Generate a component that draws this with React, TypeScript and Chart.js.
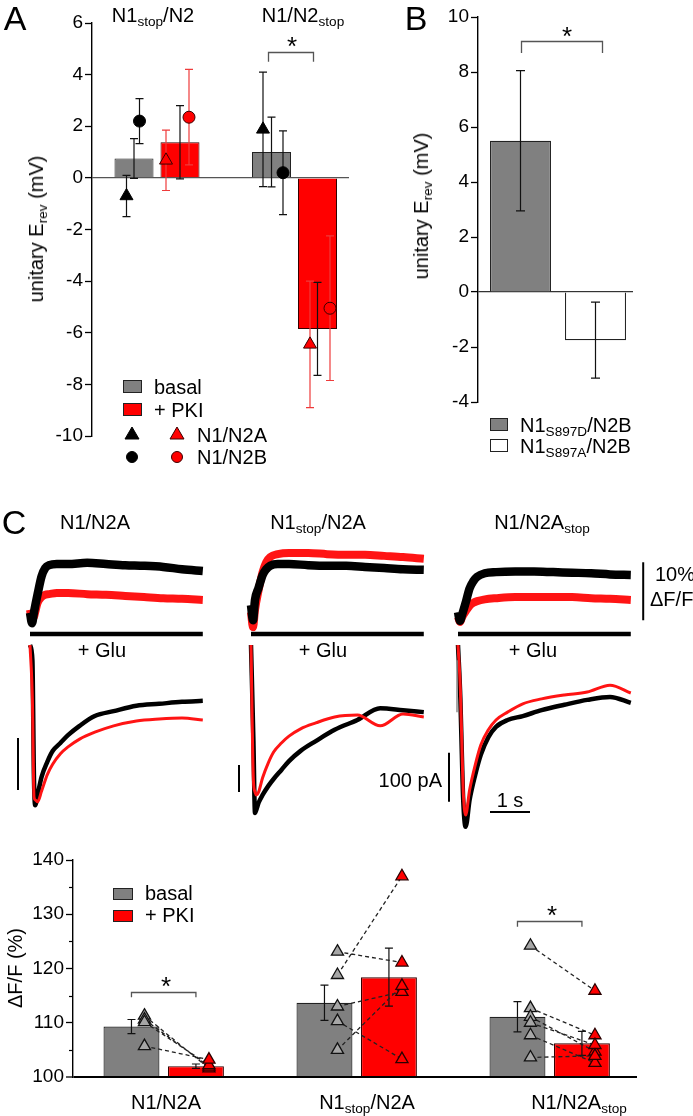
import React, { useEffect, useRef } from "react";
import { Chart, registerables } from "chart.js";

Chart.register(...registerables);

const FONT = '"Liberation Sans", Arial, Helvetica, sans-serif';
Chart.defaults.font.family = FONT;
Chart.defaults.color = "#000";

// ================= DATA =================
// Panel A: unitary Erev (mV)
const A_GROUPS = ["N1stop/N2", "N1/N2stop"];
const A_BASAL = [0.75, 1.0];
const A_BASAL_SEM = [0.77, 1.35];
const A_PKI = [1.38, -5.85];
const A_PKI_SEM = [1.42, 1.8];
const A_N2A_BASAL = [-0.7, 1.88];
const A_N2A_BASAL_SEM = [0.8, 2.22];
const A_N2A_PKI = [0.68, -6.45];
const A_N2A_PKI_SEM = [1.17, 2.45];
const A_N2B_BASAL = [2.2, 0.2];
const A_N2B_BASAL_SEM = [0.87, 1.62];
const A_N2B_PKI = [2.35, -5.05];
const A_N2B_PKI_SEM = [1.85, 2.8];
const A_Y_RANGE = [-10, 6];
const A_Y_STEP = 2;

// Panel B
const B_GROUPS = ["N1S897D/N2B", "N1S897A/N2B"];
const B_MEAN = [5.5, -1.75];
const B_SEM = [2.55, 1.38];
const B_Y_RANGE = [-4, 10];
const B_Y_STEP = 2;

// Panel C traces: time (s), ΔF/F (%), current (pA)
const F_TIME = [0, 0.05, 0.1, 0.19, 0.29, 0.38, 0.48, 0.67, 0.95, 1.43, 1.9, 2.38, 2.85, 3.33, 3.8, 4.32];
const F1_BASAL = [1.6, -0.2, 1.7, 4.8, 7.9, 9.3, 9.8, 10.0, 10.0, 10.2, 10.0, 9.8, 9.7, 9.5, 9.1, 8.8];
const F1_PKI = [2.1, 0.3, 0.9, 3.3, 4.3, 4.7, 4.8, 5.0, 5.0, 4.8, 4.7, 4.5, 4.3, 4.1, 4.0, 3.8];
const F2_BASAL = [2.9, 0.3, 3.8, 5.9, 8.1, 9.1, 9.7, 10.0, 10.0, 9.8, 9.7, 9.7, 9.5, 9.3, 9.1, 9.0];
const F2_PKI = [1.7, -0.9, 2.1, 5.5, 8.6, 10.3, 11.2, 11.7, 11.9, 11.9, 11.7, 11.6, 11.6, 11.4, 11.2, 10.9];
const F3_BASAL = [1.7, 0.2, 1.2, 3.3, 5.8, 7.0, 7.8, 8.4, 8.6, 8.7, 8.7, 8.6, 8.5, 8.4, 8.2, 8.1];
const F3_PKI = [0.9, 0, 0.8, 1.8, 2.8, 3.3, 3.6, 3.9, 4.1, 4.3, 4.3, 4.3, 4.3, 4.1, 4.0, 3.8];
const I_TIME = [0, 0.06, 0.1, 0.13, 0.19, 0.29, 0.43, 0.57, 0.76, 0.95, 1.24, 1.62, 2.09, 2.66, 3.23, 3.8, 4.32];
const I1_BASAL = [0, -31, -276, -327, -306, -269, -239, -216, -200, -184, -165, -145, -135, -124, -120, -116, -114];
const I1_PKI = [0, -112, -310, -316, -320, -298, -265, -243, -222, -208, -192, -178, -165, -155, -151, -149, -153];
const I2_BASAL = [0, -194, -343, -337, -322, -306, -288, -273, -255, -237, -216, -196, -173, -153, -129, -133, -137];
const I2_PKI = [0, -276, -300, -306, -300, -271, -241, -218, -200, -186, -171, -159, -147, -143, -165, -141, -147];
const I3_BASAL = [0, -112, -235, -316, -371, -316, -265, -224, -188, -167, -153, -145, -133, -122, -112, -106, -118];
const I3_PKI = [0, -92, -214, -296, -347, -296, -245, -204, -173, -153, -137, -120, -110, -102, -96, -82, -98];
const GLU_PERIOD = [0, 4.32];

// Bottom panel: ΔF/F (%)
const D_GROUPS = ["N1/N2A", "N1stop/N2A", "N1/N2Astop"];
const D_BASAL = [109.3, 113.7, 111.1];
const D_BASAL_SEM = [1.3, 3.25, 2.8];
const D_PKI = [102.0, 118.4, 106.2];
const D_PKI_SEM = [0.4, 5.35, 2.2];
const D_CELLS_BASAL = [
  [111.3, 110.6, 110.1, 105.7],
  [123.1, 118.8, 113.0, 110.3, 105.0],
  [124.2, 112.7, 111.1, 110.0, 107.7, 103.6],
];
const D_CELLS_PKI = [
  [101.6, 101.9, 102.2, 103.2],
  [121.1, 137.0, 115.7, 103.3, 116.8],
  [115.9, 107.7, 104.7, 105.9, 102.6, 103.9],
];
const D_Y_RANGE = [100, 140];
const D_Y_STEP = 10;
const D_Y_MINOR = [105, 115, 125, 135];

// ================= PLUGINS =================
function drawErrors(chart: any, index: number) {
  const ds: any = chart.data.datasets[index];
  const meta = chart.getDatasetMeta(index);
  const ys = chart.scales[meta.yAxisID];
  const ctx = chart.ctx;
  ctx.save();
  ctx.strokeStyle = ds.errorColor || "#000";
  ctx.lineWidth = ds.errorWidth || 1.2;
  const c = ds.errorCap ?? 4;
  meta.data.forEach((el: any, j: number) => {
    const raw = ds.data[j];
    const v = typeof raw === "number" ? raw : raw.y;
    const e = ds.errors[j];
    if (v == null || e == null) return;
    const x = el.x;
    const t = ys.getPixelForValue(v + e);
    const b = ys.getPixelForValue(v - e);
    ctx.beginPath();
    ctx.moveTo(x, t);
    ctx.lineTo(x, b);
    ctx.moveTo(x - c, t);
    ctx.lineTo(x + c, t);
    ctx.moveTo(x - c, b);
    ctx.lineTo(x + c, b);
    ctx.stroke();
  });
  ctx.restore();
}

const errPlugin = {
  id: "errbars",
  beforeDatasetDraw(chart: any, args: any) {
    const ds: any = chart.data.datasets[args.index];
    if (ds.errors && ds.errPhase === "before") drawErrors(chart, args.index);
  },
  afterDatasetDraw(chart: any, args: any) {
    const ds: any = chart.data.datasets[args.index];
    if (ds.errors && ds.errPhase !== "before") drawErrors(chart, args.index);
  },
};

function makeBrackets(items: any[]) {
  return {
    id: "brackets",
    afterDatasetsDraw(chart: any) {
      const ctx = chart.ctx;
      const ys = chart.scales.y;
      ctx.save();
      ctx.strokeStyle = "#555";
      ctx.lineWidth = 1.3;
      items.forEach((it) => {
        const e1 = chart.getDatasetMeta(it.from[0]).data[it.from[1]];
        const e2 = chart.getDatasetMeta(it.to[0]).data[it.to[1]];
        const x1 = e1.x + (it.dx1 || 0);
        const x2 = e2.x + (it.dx2 || 0);
        const y = Math.round(ys.getPixelForValue(it.y)) + 0.5;
        const yd = ys.getPixelForValue(it.drop);
        ctx.beginPath();
        ctx.moveTo(x1, yd);
        ctx.lineTo(x1, y);
        ctx.lineTo(x2, y);
        ctx.lineTo(x2, yd);
        ctx.stroke();
      });
      ctx.restore();
    },
  };
}

function makeMinorTicks(values: number[], len: number) {
  return {
    id: "minorTicks",
    afterDraw(chart: any) {
      const ctx = chart.ctx;
      const ys = chart.scales.y;
      const x = chart.chartArea.left;
      ctx.save();
      ctx.strokeStyle = "#000";
      ctx.lineWidth = 1.2;
      values.forEach((v) => {
        const y = Math.round(ys.getPixelForValue(v)) + 0.5;
        ctx.beginPath();
        ctx.moveTo(x - len, y);
        ctx.lineTo(x, y);
        ctx.stroke();
      });
      ctx.restore();
    },
  };
}

function makeScaleBars(items: any[]) {
  return {
    id: "scaleBars",
    afterDraw(chart: any) {
      const ctx = chart.ctx;
      const xs = chart.scales.x;
      ctx.save();
      items.forEach((it) => {
        const ys = chart.scales[it.axis];
        ctx.strokeStyle = it.color || "#000";
        ctx.lineWidth = it.width || 2;
        ctx.beginPath();
        ctx.moveTo(xs.getPixelForValue(it.x1), ys.getPixelForValue(it.y1));
        ctx.lineTo(xs.getPixelForValue(it.x2), ys.getPixelForValue(it.y2));
        ctx.stroke();
      });
      ctx.restore();
    },
  };
}

// ================= CHART CONFIGS =================
const GRAY = "#808080";
const RED = "#ff0000";
const RED_ERR = "#ee3b3b";

function yAxis(range: number[], step: number, zeroVal: number, width: number, zeroColor: string, zeroWidth: number) {
  return {
    min: range[0],
    max: range[1],
    ticks: { stepSize: step, font: { size: 19, family: FONT }, color: "#000", padding: 2 },
    grid: {
      color: (ctx: any) => (ctx.tick && ctx.tick.value === zeroVal ? zeroColor : "rgba(0,0,0,0)"),
      lineWidth: (ctx: any) => (ctx.tick && ctx.tick.value === zeroVal ? zeroWidth : 1),
      tickColor: "#000",
      tickLength: 7,
      tickWidth: 1.3,
    },
    border: { color: "#000", width: 1.4 },
    afterFit: (s: any) => {
      s.width = width;
    },
  };
}

function configA() {
  const UNIT = 137.5; // px per group
  const SLOT = 23 / UNIT;
  const J = { n2aBasal: [-7.5, -8.5], n2aPki: [-14, -7.5], n2bBasal: [5.5, 11.5], n2bPki: [9, 12.5] };
  const pts = (vals: number[], side: number, jit: number[]) =>
    vals.map((v, i) => ({ x: i + side * SLOT + jit[i] / UNIT, y: v }));
  return {
    type: "bar",
    data: {
      datasets: [
        {
          label: "basal",
          data: A_GROUPS.map((_, i) => ({ x: i, y: A_BASAL[i] })),
          backgroundColor: GRAY, borderColor: "#222", borderWidth: 1,
          categoryPercentage: 0.669, barPercentage: 0.848,
          errors: A_BASAL_SEM, errorColor: "#111", order: 10,
        },
        {
          label: "+ PKI",
          data: A_GROUPS.map((_, i) => ({ x: i, y: A_PKI[i] })),
          backgroundColor: RED, borderColor: "#330000", borderWidth: 1,
          categoryPercentage: 0.669, barPercentage: 0.848,
          errors: A_PKI_SEM, errorColor: "#111", order: 10,
        },
        {
          type: "scatter", label: "N1/N2A basal", data: pts(A_N2A_BASAL, -1, J.n2aBasal),
          pointStyle: "triangle", pointRadius: 7.5, backgroundColor: "#000", borderColor: "#000",
          errors: A_N2A_BASAL_SEM, errorColor: "#111", errPhase: "before", order: 2,
        },
        {
          type: "scatter", label: "N1/N2B basal", data: pts(A_N2B_BASAL, -1, J.n2bBasal),
          pointStyle: "circle", pointRadius: 6, backgroundColor: "#000", borderColor: "#000",
          errors: A_N2B_BASAL_SEM, errorColor: "#111", errPhase: "before", order: 2,
        },
        {
          type: "scatter", label: "N1/N2A PKI", data: pts(A_N2A_PKI, 1, J.n2aPki),
          pointStyle: "triangle", pointRadius: 7.5, backgroundColor: RED, borderColor: "#3a0000", borderWidth: 1,
          errors: A_N2A_PKI_SEM, errorColor: RED_ERR, errPhase: "before", order: 1,
        },
        {
          type: "scatter", label: "N1/N2B PKI", data: pts(A_N2B_PKI, 1, J.n2bPki),
          pointStyle: "circle", pointRadius: 6, backgroundColor: RED, borderColor: "#3a0000", borderWidth: 1,
          errors: A_N2B_PKI_SEM, errorColor: RED_ERR, errPhase: "before", order: 1,
        },
      ],
    },
    options: {
      animation: false, responsive: false, devicePixelRatio: 1,
      layout: { padding: { top: 23, bottom: 34, left: 0, right: 11 } },
      plugins: { legend: { display: false }, tooltip: { enabled: false } },
      scales: {
        x: {
          type: "linear", min: -65 / UNIT, max: 192 / UNIT, display: false, offset: false,
          afterBuildTicks: (s: any) => { s.ticks = A_GROUPS.map((_, i) => ({ value: i })); },
        },
        y: yAxis(A_Y_RANGE, A_Y_STEP, 0, 92, "#555", 1.2),
      },
    },
    plugins: [errPlugin, makeBrackets([{ from: [0, 1], to: [1, 1], y: 4.88, drop: 4.5, dx1: -3, dx2: -4 }])],
  };
}

function configB() {
  const UNIT = 75;
  return {
    type: "bar",
    data: {
      datasets: [
        {
          data: B_GROUPS.map((_, i) => ({ x: i, y: B_MEAN[i] })),
          backgroundColor: [GRAY, "#ffffff"], borderColor: "#222", borderWidth: 1.2,
          categoryPercentage: 1, barPercentage: 0.813,
          errors: B_SEM, errorColor: "#111", errorCap: 4.5,
        },
      ],
    },
    options: {
      animation: false, responsive: false, devicePixelRatio: 1,
      layout: { padding: { top: 17, bottom: 68, left: 0, right: 60 } },
      plugins: { legend: { display: false }, tooltip: { enabled: false } },
      scales: {
        x: {
          type: "linear", min: -42.5 / UNIT, max: 112.5 / UNIT, display: false, offset: false,
          afterBuildTicks: (s: any) => { s.ticks = B_GROUPS.map((_, i) => ({ value: i })); },
        },
        y: yAxis(B_Y_RANGE, B_Y_STEP, 0, 108, "#333", 1.2),
      },
    },
    plugins: [errPlugin, makeBrackets([{ from: [0, 0], to: [0, 1], y: 9.13, drop: 8.69, dx1: 1, dx2: 7 }])],
  };
}

function configTraces() {
  const COL_START = [0, 5.525, 10.7];
  const GLU_LEVEL = -2.07;
  const cols = [
    { fB: F1_BASAL, fP: F1_PKI, iB: I1_BASAL, iP: I1_PKI },
    { fB: F2_BASAL, fP: F2_PKI, iB: I2_BASAL, iP: I2_PKI },
    { fB: F3_BASAL, fP: F3_PKI, iB: I3_BASAL, iP: I3_PKI },
  ];
  const xy = (t: number[], v: number[], off: number) => t.map((tt, i) => ({ x: off + tt, y: v[i] }));
  const line = (data: any, axis: string, color: string, w: number, order: number) => ({
    data, yAxisID: axis, borderColor: color, borderWidth: w, order, clip: false,
    pointRadius: 0, cubicInterpolationMode: "monotone", borderJoinStyle: "round", fill: false,
  });
  const datasets: any[] = [];
  cols.forEach((c, k) => {
    const off = COL_START[k];
    datasets.push({ ...line(GLU_PERIOD.map((t) => ({ x: off + t, y: GLU_LEVEL })), "yF", "#000", 4.5, 6), cubicInterpolationMode: "default", borderJoinStyle: "miter" });
    datasets.push(line(xy(F_TIME, c.fP, off), "yF", "#ff1414", 8, 4));
    datasets.push(line(xy(F_TIME, c.fB, off), "yF", "#000", 8.5, 3));
    datasets.push(line(xy(I_TIME, c.iB, off), "yI", "#000", 4.5, 2));
    datasets.push(line(xy(I_TIME, c.iP, off), "yI", "#ff1414", 3, 1));
  });
  return {
    type: "line",
    data: { datasets },
    options: {
      animation: false, responsive: false, devicePixelRatio: 1,
      layout: { padding: { left: 30, right: 60, top: 40, bottom: 10 } },
      plugins: { legend: { display: false }, tooltip: { enabled: false } },
      scales: {
        x: { type: "linear", min: 0, max: 15.075, display: false },
        yF: { type: "linear", min: 14.138 - 300 / 5.8, max: 14.138, display: false },
        yI: { type: "linear", min: 214.29 - 300 / 0.49, max: 214.29, display: false },
      },
    },
    plugins: [
      makeScaleBars([
        { axis: "yF", x1: 15.33, x2: 15.33, y1: 0.3, y2: 10.3, width: 2 },
        { axis: "yI", x1: 10.475, x2: 10.475, y1: -220, y2: -320, width: 2 },
        { axis: "yI", x1: 11.5, x2: 12.5, y1: -341, y2: -341, width: 2 },
        { axis: "yI", x1: -0.3, x2: -0.3, y1: -190, y2: -296, width: 2 },
        { axis: "yI", x1: 5.225, x2: 5.225, y1: -245, y2: -300, width: 2 },
        { axis: "yI", x1: 10.675, x2: 10.675, y1: -31, y2: -137, width: 1.5, color: "#8a8a8a" },
      ]),
    ],
  };
}

function configD() {
  const UNIT = 193;
  const SLOT = 32.25 / UNIT;
  const OFF = 13 / UNIT;
  const basalPts = D_CELLS_BASAL.flatMap((vals, i) => vals.map((v) => ({ x: i - SLOT + OFF, y: v })));
  const pkiPts = D_CELLS_PKI.flatMap((vals, i) => vals.map((v) => ({ x: i + SLOT + OFF, y: v })));
  const pairs = D_CELLS_BASAL.flatMap((vals, i) =>
    vals.flatMap((v, k) => [
      { x: i - SLOT + OFF, y: v },
      { x: i + SLOT + OFF, y: D_CELLS_PKI[i][k] },
      { x: i + SLOT + OFF, y: null },
    ])
  );
  return {
    type: "bar",
    data: {
      datasets: [
        {
          label: "basal", data: D_GROUPS.map((_, i) => ({ x: i, y: D_BASAL[i] })),
          backgroundColor: GRAY, borderColor: "#222", borderWidth: 1.2, base: 100,
          categoryPercentage: 0.668, barPercentage: 0.868,
          errors: D_BASAL_SEM, errorColor: "#111", order: 10,
        },
        {
          label: "+ PKI", data: D_GROUPS.map((_, i) => ({ x: i, y: D_PKI[i] })),
          backgroundColor: RED, borderColor: "#330000", borderWidth: 1.2, base: 100,
          categoryPercentage: 0.668, barPercentage: 0.868,
          errors: D_PKI_SEM, errorColor: "#111", order: 10,
        },
        {
          type: "line", data: pairs, borderColor: "#222", borderWidth: 1.3, borderDash: [4, 3],
          pointRadius: 0, spanGaps: false, fill: false, tension: 0, order: 5,
        },
        {
          type: "scatter", data: basalPts, pointStyle: "triangle", pointRadius: 7,
          backgroundColor: "#a6a6a6", borderColor: "#111", borderWidth: 1.3, order: 2,
        },
        {
          type: "scatter", data: pkiPts, pointStyle: "triangle", pointRadius: 7,
          backgroundColor: RED, borderColor: "#2a0000", borderWidth: 1.3, order: 1,
        },
      ],
    },
    options: {
      animation: false, responsive: false, devicePixelRatio: 1,
      layout: { padding: { top: 20, bottom: 39, left: 0, right: 56 } },
      plugins: { legend: { display: false }, tooltip: { enabled: false } },
      scales: {
        x: {
          type: "linear", min: -90.7 / UNIT, max: 473.3 / UNIT, display: false, offset: false,
          afterBuildTicks: (s: any) => { s.ticks = D_GROUPS.map((_, i) => ({ value: i })); },
        },
        y: yAxis(D_Y_RANGE, D_Y_STEP, 100, 73, "#000", 2),
      },
    },
    plugins: [
      errPlugin,
      makeMinorTicks(D_Y_MINOR, 4),
      makeBrackets([
        { from: [0, 0], to: [1, 0], y: 115.7, drop: 114.7 },
        { from: [0, 2], to: [1, 2], y: 128.8, drop: 127.7 },
      ]),
    ],
  };
}

// ================= COMPONENTS =================
function ChartBox({ left, top, width, height, make }: any) {
  const ref = useRef<HTMLCanvasElement>(null);
  useEffect(() => {
    const chart = new Chart(ref.current as any, make());
    return () => chart.destroy();
  }, []);
  return (
    <canvas
      ref={ref}
      width={width}
      height={height}
      style={{ position: "absolute", left, top, width, height }}
    />
  );
}

const Sub = ({ children }: any) => (
  <span style={{ fontSize: "0.68em", verticalAlign: "-0.32em", lineHeight: 0 }}>{children}</span>
);

function T({ x, y, anchor = "middle", size = 20, rotate = false, children, weight = "normal" }: any) {
  const tx = anchor === "start" ? "0" : anchor === "end" ? "-100%" : "-50%";
  return (
    <div
      style={{
        position: "absolute",
        left: x,
        top: y,
        transform: rotate ? "translate(-50%,-50%) rotate(-90deg)" : `translate(${tx},-50%)`,
        fontSize: size,
        lineHeight: 1,
        whiteSpace: "nowrap",
        fontFamily: FONT,
        fontWeight: weight,
        color: "#000",
      }}
    >
      {children}
    </div>
  );
}

function Box({ x, y, w, h, color }: any) {
  return (
    <div
      style={{
        position: "absolute", left: x, top: y, width: w, height: h, boxSizing: "border-box",
        background: color, border: "1.3px solid #222",
      }}
    />
  );
}

function Tri({ cx, cy, color, stroke }: any) {
  return (
    <svg width={16} height={14} style={{ position: "absolute", left: cx - 8, top: cy - 8 }}>
      <polygon points="8,1 15,13 1,13" fill={color} stroke={stroke} strokeWidth={1} />
    </svg>
  );
}

function Dot({ cx, cy, color, stroke }: any) {
  return (
    <div
      style={{
        position: "absolute", left: cx - 6, top: cy - 6, width: 12, height: 12, borderRadius: "50%",
        background: color, border: `1px solid ${stroke}`, boxSizing: "border-box",
      }}
    />
  );
}

export default function App() {
  return (
    <div
      style={{
        position: "absolute", left: 0, top: 0, width: 693, height: 1116, background: "#fff",
        overflow: "hidden", fontFamily: FONT,
      }}
    >
      <ChartBox left={0} top={0} width={360} height={470} make={configA} />
      <ChartBox left={370} top={0} width={323} height={470} make={configB} />
      <ChartBox left={0} top={500} width={693} height={350} make={configTraces} />
      <ChartBox left={0} top={840} width={693} height={276} make={configD} />

      {/* Panel A */}
      <T x={15} y={18} size={34}>A</T>
      <T x={153} y={15}>N1<Sub>stop</Sub>/N2</T>
      <T x={303} y={15}>N1/N2<Sub>stop</Sub></T>
      <T x={292} y={46} size={26}>*</T>
      <T x={36} y={229} rotate>unitary E<Sub>rev</Sub> (mV)</T>
      <Box x={123} y={380} w={19} h={13} color={GRAY} />
      <Box x={123} y={403} w={19} h={13} color={RED} />
      <T x={154} y={387} anchor="start">basal</T>
      <T x={154} y={410} anchor="start">+ PKI</T>
      <Tri cx={132} cy={434} color="#000" stroke="#000" />
      <Tri cx={177} cy={434} color={RED} stroke="#3a0000" />
      <Dot cx={132} cy={457} color="#000" stroke="#000" />
      <Dot cx={177} cy={457} color={RED} stroke="#3a0000" />
      <T x={197} y={435} anchor="start">N1/N2A</T>
      <T x={197} y={457} anchor="start">N1/N2B</T>

      {/* Panel B */}
      <T x={416} y={18} size={34}>B</T>
      <T x={567} y={36} size={26}>*</T>
      <T x={421} y={206} rotate>unitary E<Sub>rev</Sub> (mV)</T>
      <Box x={490} y={418} w={18} h={13} color={GRAY} />
      <Box x={490} y={439} w={18} h={13} color="#fff" />
      <T x={520} y={425} anchor="start">N1<Sub>S897D</Sub>/N2B</T>
      <T x={520} y={446} anchor="start">N1<Sub>S897A</Sub>/N2B</T>

      {/* Panel C */}
      <T x={14} y={522} size={34}>C</T>
      <T x={95} y={522}>N1/N2A</T>
      <T x={318} y={522}>N1<Sub>stop</Sub>/N2A</T>
      <T x={542} y={522}>N1/N2A<Sub>stop</Sub></T>
      <T x={102} y={650}>+ Glu</T>
      <T x={323} y={650}>+ Glu</T>
      <T x={533} y={650}>+ Glu</T>
      <T x={655} y={574} anchor="start">10%</T>
      <T x={650} y={599} anchor="start">ΔF/F</T>
      <T x={442} y={780} anchor="end">100 pA</T>
      <T x={510} y={800}>1 s</T>

      {/* Bottom panel */}
      <T x={15} y={968} rotate>ΔF/F (%)</T>
      <Box x={113} y={888} w={20} h={12} color={GRAY} />
      <Box x={113} y={910} w={20} h={12} color={RED} />
      <T x={145} y={893} anchor="start">basal</T>
      <T x={145} y={915} anchor="start">+ PKI</T>
      <T x={166} y={986} size={26}>*</T>
      <T x={552} y={915} size={26}>*</T>
      <T x={166} y={1102}>N1/N2A</T>
      <T x={367} y={1102}>N1<Sub>stop</Sub>/N2A</T>
      <T x={579} y={1102}>N1/N2A<Sub>stop</Sub></T>
    </div>
  );
}
